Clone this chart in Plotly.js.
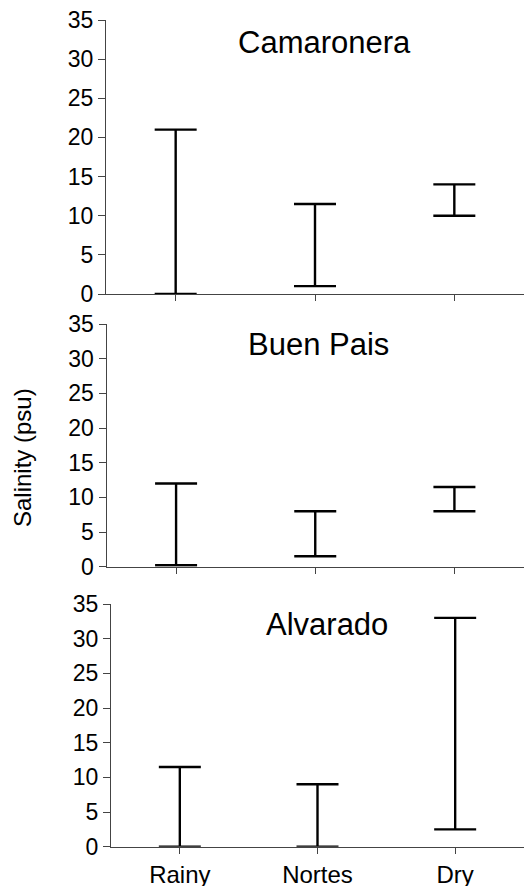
<!DOCTYPE html>
<html>
<head>
<meta charset="utf-8">
<script src="https://cdn.plot.ly/plotly-3.0.1.min.js"></script>
<style>html,body{margin:0;padding:0;background:#fff;}#chart{width:524px;height:886px;}</style>
</head>
<body>
<div id="chart"></div>
<script>
// Data
var categories = ['Rainy', 'Nortes', 'Dry'];
var sites = ['Camaronera', 'Buen Pais', 'Alvarado'];
var camaroneraMin = [0, 1, 10];
var camaroneraMax = [21, 11.5, 14];
var buenPaisMin = [0.2, 1.5, 8];
var buenPaisMax = [12, 8, 11.5];
var alvaradoMin = [0, 0, 2.5];
var alvaradoMax = [11.5, 9, 33];
var yTickVals = [0, 5, 10, 15, 20, 25, 30, 35];

var mins = [camaroneraMin, buenPaisMin, alvaradoMin];
var maxs = [camaroneraMax, buenPaisMax, alvaradoMax];
var xIdx = categories.map(function (c, i) { return i; });

var FONT = 'Liberation Sans, Arial, Helvetica, sans-serif';
var traces = [];
for (var s = 0; s < sites.length; s++) {
  var suffix = s === 0 ? '' : String(s + 1);
  traces.push({
    type: 'scatter',
    mode: 'markers',
    x: xIdx,
    y: mins[s],
    xaxis: 'x' + suffix,
    yaxis: 'y' + suffix,
    marker: {size: 1, opacity: 0},
    cliponaxis: false,
    showlegend: false,
    hoverinfo: 'skip',
    error_y: {
      type: 'data',
      symmetric: false,
      array: maxs[s].map(function (v, i) { return v - mins[s][i]; }),
      arrayminus: mins[s].map(function () { return 0; }),
      color: '#000',
      thickness: 2.4,
      width: 21
    }
  });
}

var H = 886, W = 524;
var yDomains = [
  [1 - 294 / H, 1 - 20 / H],
  [1 - 566.7 / H, 1 - 324 / H],
  [1 - 846.7 / H, 1 - 604 / H]
];
var xDomains = [
  [106 / W, 1],
  [106.5 / W, 1],
  [111 / W, 1]
];
var titleX = [1.07, 1.02, 1.07];

var layout = {
  width: W, height: H,
  margin: {l: 0, r: 0, t: 0, b: 0},
  paper_bgcolor: '#fff', plot_bgcolor: '#fff',
  font: {family: FONT, color: '#000'},
  showlegend: false,
  annotations: []
};

for (var k = 0; k < 3; k++) {
  var sfx = k === 0 ? '' : String(k + 1);
  layout['xaxis' + sfx] = {
    domain: xDomains[k],
    anchor: 'y' + sfx,
    range: [-0.5, 2.5],
    tickmode: 'array',
    tickvals: xIdx,
    ticktext: categories,
    showticklabels: k === 2,
    ticks: 'outside', ticklen: 6, tickwidth: 1, tickcolor: '#444',
    showline: true, linecolor: '#444', linewidth: 1,
    showgrid: false, zeroline: false,
    tickfont: {family: FONT, size: 24, color: '#000'},
    fixedrange: true
  };
  layout['yaxis' + sfx] = {
    domain: yDomains[k],
    anchor: 'x' + sfx,
    range: [0, 35],
    tickmode: 'array',
    tickvals: yTickVals,
    ticks: 'outside', ticklen: 7, tickwidth: 1, tickcolor: '#444',
    showline: true, linecolor: '#444', linewidth: 1,
    showgrid: false, zeroline: false,
    tickfont: {family: FONT, size: 23, color: '#000'},
    fixedrange: true
  };
  layout.annotations.push({
    text: sites[k],
    xref: 'x' + sfx, yref: 'y' + sfx,
    x: titleX[k], y: 32.1,
    xanchor: 'center', yanchor: 'middle',
    showarrow: false,
    font: {family: FONT, size: 31, color: '#000'}
  });
}

layout.annotations.push({
  text: 'Salinity (psu)',
  xref: 'paper', yref: 'paper',
  x: 22 / W, y: 1 - 458 / H,
  xanchor: 'center', yanchor: 'middle',
  textangle: -90,
  showarrow: false,
  font: {family: FONT, size: 24, color: '#000'}
});

Plotly.newPlot('chart', traces, layout, {staticPlot: true, displayModeBar: false});
</script>
</body>
</html>
